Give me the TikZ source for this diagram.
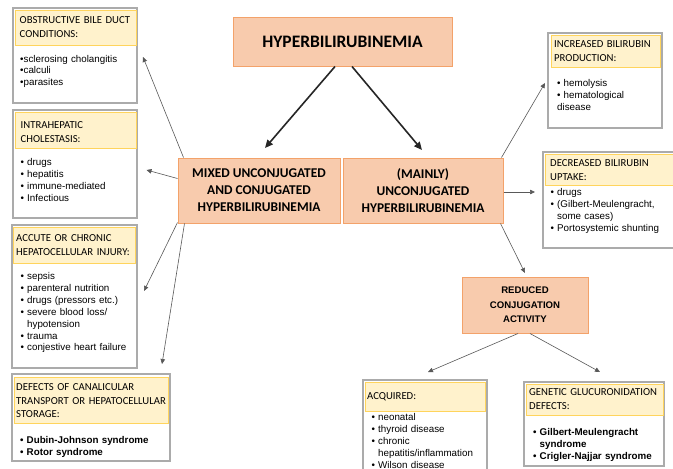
\documentclass[tikz,border=0pt]{standalone}
\usepackage{fontspec}
\setmainfont{Liberation Sans}
\newfontfamily\calfont{Carlito}
\usetikzlibrary{arrows.meta}
\definecolor{peach}{HTML}{F8CBAD}
\definecolor{peachline}{HTML}{F3A26A}
\definecolor{hdrfill}{HTML}{FFF2CC}
\definecolor{hdrline}{HTML}{FFD45C}
\definecolor{boxline}{HTML}{ABABAB}
\newlength\bw \setlength\bw{6.5pt}
\newcommand\bfst{\hangindent=\bw\hangafter=1\makebox[\bw][l]{•}}
\newcommand\bl{\par\noindent\bfst}
\newcommand\boxat[6]{\node[#2, anchor=north west, inner sep=0pt, outer sep=0pt, minimum width={(#5)-(#3)}, minimum height={(#6)-(#4)}] (#1) at (#3,#4) {};}
\tikzset{
  outerbox/.style={draw=boxline, line width=1.2pt, fill=white},
  hdrbox/.style={draw=hdrline, fill=hdrfill, line width=1pt},
  mainbox/.style={draw=peachline, fill=peach, line width=1pt, inner sep=0pt, align=center},
  hdrtxt/.style={anchor=base west, inner sep=0pt, align=left, text width=#1, font=\calfont\fontsize{10.7}{13.5}\selectfont},
  itmtxt/.style={anchor=base west, inner sep=0pt, align=left, text width=#1, font=\fontsize{9.8}{11.9}\selectfont},
  blackarrow/.style={-{Triangle[length=8pt,width=7pt]}, line width=1.6pt, draw=black!85},
  greyarrow/.style={-{Triangle[length=5pt,width=4.5pt]}, line width=0.6pt, draw=black!65},
}
\begin{document}
\begin{tikzpicture}[x=1pt,y=-1pt]
\useasboundingbox[fill=white] (0,0) rectangle (673,469);

% main nodes
\node[mainbox, minimum width=219pt, minimum height=49pt, font=\calfont\bfseries\fontsize{17.5}{20}\selectfont] (top) at (342.5,41.5) {HYPERBILIRUBINEMIA};
\node[mainbox, minimum width=162pt, minimum height=65pt, font=\calfont\bfseries\fontsize{13.4}{17}\selectfont] (mixed) at (259,190.5) {MIXED UNCONJUGATED\\AND CONJUGATED\\HYPERBILIRUBINEMIA};
\node[mainbox, minimum width=160pt, minimum height=65pt, font=\calfont\bfseries\fontsize{13.4}{17}\selectfont] (right) at (423,190.5) {(MAINLY)\\UNCONJUGATED\\HYPERBILIRUBINEMIA};
\node[mainbox, minimum width=126pt, minimum height=56pt, font=\bfseries\fontsize{9.6}{14.5}\selectfont] (red) at (525,305) {REDUCED\\CONJUGATION\\ACTIVITY};

% Obstructive
\boxat{obO}{outerbox}{13}{8}{137}{103}
\boxat{obH}{hdrbox}{15}{10}{136}{45}
\node[hdrtxt=118pt] (obHt) at (19.5,23.5) {OBSTRUCTIVE BILE DUCT\\CONDITIONS:};
\node[itmtxt=115pt] (obI) at (20,62) {•sclerosing cholangitis\\•calculi\\•parasites};

% Intrahepatic
\boxat{inO}{outerbox}{13}{110}{137}{218}
\boxat{inH}{hdrbox}{15}{112}{136}{148}
\node[hdrtxt=118pt] (inHt) at (20.5,128.5) {INTRAHEPATIC\\CHOLESTASIS:};
\node[itmtxt=115pt] (inI) at (20.5,165.5) {\bfst drugs\bl hepatitis\bl immune-mediated\bl Infectious};

% Acute
\boxat{acO}{outerbox}{12}{225}{137}{368}
\boxat{acH}{hdrbox}{13.5}{227}{135}{263}
\node[hdrtxt=122pt] (acHt) at (16,241.5) {ACCUTE OR CHRONIC\\HEPATOCELLULAR INJURY:};
\node[itmtxt=115pt] (acI) at (20.5,279.5) {\bfst sepsis\bl parenteral nutrition\bl drugs (pressors etc.)\bl severe blood loss/\newline hypotension\bl trauma\bl conjestive heart failure};

% Defects
\boxat{deO}{outerbox}{12}{374}{170}{461}
\boxat{deH}{hdrbox}{14}{377}{168}{423}
\node[hdrtxt=155pt] (deHt) at (16,390.5) {DEFECTS OF CANALICULAR\\TRANSPORT OR HEPATOCELLULAR\\STORAGE:};
\node[itmtxt=145pt, font=\bfseries\fontsize{9.8}{12}\selectfont] (deI) at (20,443.5) {\bfst Dubin-Johnson syndrome\bl Rotor syndrome};

% Increased
\boxat{icO}{outerbox}{548}{33}{662}{128}
\boxat{icH}{hdrbox}{551}{35}{660}{67}
\node[hdrtxt=108pt] (icHt) at (554,47.5) {INCREASED BILIRUBIN\\PRODUCTION:};
\node[itmtxt=100pt] (icI) at (557,86.5) {\bfst hemolysis\bl hematological\newline disease};

% Decreased
\boxat{dcO}{outerbox}{543}{152}{676}{248}
\boxat{dcH}{hdrbox}{545}{154}{676}{185}
\node[hdrtxt=125pt] (dcHt) at (550,166.5) {DECREASED BILIRUBIN\\UPTAKE:};
\node[itmtxt=118pt] (dcI) at (550.5,195.5) {\bfst drugs\bl (Gilbert-Meulengracht,\newline some cases)\bl Portosystemic shunting};

% Acquired
\boxat{aqO}{outerbox}{363}{380}{487}{475}
\boxat{aqH}{hdrbox}{365}{382}{485}{411}
\node[hdrtxt=115pt] (aqHt) at (367,399.5) {ACQUIRED:};
\node[itmtxt=118pt] (aqI) at (371.5,420.5) {\bfst neonatal\bl thyroid disease\bl chronic\newline hepatitis/inflammation\bl Wilson disease};

% Genetic
\boxat{geO}{outerbox}{524}{382}{664}{466}
\boxat{geH}{hdrbox}{526}{384}{663}{415}
\node[hdrtxt=136pt] (geHt) at (529,395.5) {GENETIC GLUCURONIDATION\\DEFECTS:};
\node[itmtxt=130pt, font=\bfseries\fontsize{9.8}{12}\selectfont] (geI) at (533,435.5) {\bfst Gilbert-Meulengracht\newline syndrome\bl Crigler-Najjar syndrome};

% arrow tips
\coordinate (tA) at (265,148);
\coordinate (tB) at (422,150);
\coordinate (t1) at (143,57);
\coordinate (t2) at (146.5,170);
\coordinate (t3) at (144,291);
\coordinate (t4) at (162,364);
\coordinate (t5) at (545,83);
\coordinate (t6) at (535,192);
\coordinate (t7) at (525,273);
\coordinate (t8) at (428,372);
\coordinate (t9) at (600,372);

\draw[blackarrow] ([xshift=-7.5pt]top.south) -- (tA);
\draw[blackarrow] ([xshift=9.5pt]top.south) -- (tB);
\draw[greyarrow] ([xshift=6pt]mixed.north west) -- (t1);
\draw[greyarrow] ([yshift=-21pt]mixed.north west) -- (t2);
\draw[greyarrow] ([yshift=1pt]mixed.south west) -- (t3);
\draw[greyarrow] ([xshift=7pt]mixed.south west) -- (t4);
\draw[greyarrow] ([xshift=-2pt]right.north east) -- (t5);
\draw[greyarrow] ([yshift=-1.5pt]right.east) -- (t6);
\draw[greyarrow] ([xshift=-3pt]right.south east) -- (t7);
\draw[greyarrow] ([xshift=-7pt]red.south) -- (t8);
\draw[greyarrow] ([xshift=5pt]red.south) -- (t9);
\end{tikzpicture}
\end{document}
